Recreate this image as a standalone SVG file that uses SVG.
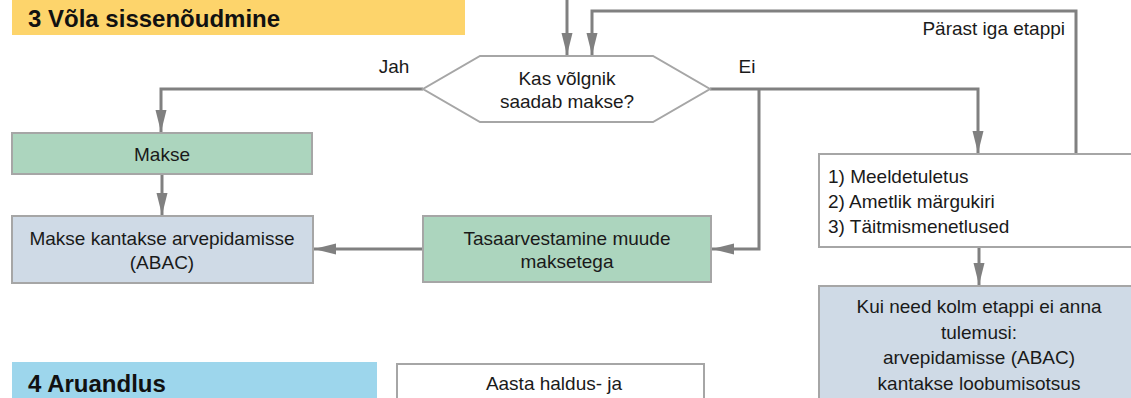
<svg xmlns="http://www.w3.org/2000/svg" width="1131" height="398" viewBox="0 0 1131 398">
<defs>
<style>
.t{font-family:"Liberation Sans",Arial,sans-serif;font-size:19px;fill:#1a1a1a}
.c{text-anchor:middle}
.h{font-family:"Liberation Sans",Arial,sans-serif;font-size:24px;font-weight:bold;fill:#111}
.box{stroke:#a6a6a6;stroke-width:2}
.green{fill:#acd5be}
.blue{fill:#cfdae6}
.white{fill:#ffffff}
.ln{fill:none;stroke:#808080;stroke-width:3}
</style>
<marker id="ah" markerUnits="userSpaceOnUse" markerWidth="22" markerHeight="12" refX="22" refY="6" orient="auto">
<path d="M0,0.5 L22,6 L0,11.5 Z" fill="#808080"/>
</marker>
</defs>
<rect width="1131" height="398" fill="#ffffff"/>

<g id="header3">
<rect x="12" y="0" width="453" height="35" fill="#fdd46b"/>
<text class="h" x="28" y="27">3 Võla sissenõudmine</text>
</g>

<g id="header4">
<rect x="12" y="362" width="365" height="40" fill="#9dd6ec"/>
<text class="h" x="28" y="392">4 Aruandlus</text>
</g>

<g id="connectors">
<path class="ln" d="M567,0 L567,55" marker-end="url(#ah)"/>
<path class="ln" d="M1076,154 L1076,11 L592,11 L592,55" marker-end="url(#ah)"/>
<path class="ln" d="M423,89 L161,89 L161,132" marker-end="url(#ah)"/>
<path class="ln" d="M710,89 L978,89 L978,153" marker-end="url(#ah)"/>
<path class="ln" d="M759,89 L759,249 L712,249" marker-end="url(#ah)"/>
<path class="ln" d="M162,174 L162,215" marker-end="url(#ah)"/>
<path class="ln" d="M423,249 L314,249" marker-end="url(#ah)"/>
<path class="ln" d="M979,247 L979,285" marker-end="url(#ah)"/>
<text class="t" x="394" y="73" text-anchor="middle">Jah</text>
<text class="t" x="747" y="73" text-anchor="middle">Ei</text>
<text class="t" x="1065" y="35" text-anchor="end">Pärast iga etappi</text>
</g>

<g id="decision">
<polygon class="box white" points="480,56 653,56 710,89 653,122 480,122 423,89"/>
<text class="t c" x="567" y="85">Kas võlgnik</text>
<text class="t c" x="567" y="108">saadab makse?</text>
</g>

<g id="makse">
<rect class="box green" x="12" y="133" width="300" height="41"/>
<text class="t c" x="162" y="161">Makse</text>
</g>

<g id="makse-kantakse">
<rect class="box blue" x="12" y="216" width="301" height="67"/>
<text class="t c" x="162" y="245">Makse kantakse arvepidamisse</text>
<text class="t c" x="162" y="269">(ABAC)</text>
</g>

<g id="tasaarvestamine">
<rect class="box green" x="423" y="216" width="288" height="66"/>
<text class="t c" x="567" y="245">Tasaarvestamine muude</text>
<text class="t c" x="567" y="268">maksetega</text>
</g>

<g id="etapid">
<rect class="box white" x="819" y="154" width="320" height="93"/>
<text class="t" x="828" y="183">1) Meeldetuletus</text>
<text class="t" x="828" y="208">2) Ametlik märgukiri</text>
<text class="t" x="828" y="233">3) Täitmismenetlused</text>
</g>

<g id="loobumine">
<rect class="box blue" x="819" y="286" width="320" height="120"/>
<text class="t c" x="979" y="313">Kui need kolm etappi ei anna</text>
<text class="t c" x="979" y="339">tulemusi:</text>
<text class="t c" x="979" y="364">arvepidamisse (ABAC)</text>
<text class="t c" x="979" y="390">kantakse loobumisotsus</text>
</g>

<g id="aastaaruanne">
<rect class="box white" x="397" y="364" width="307" height="44"/>
<text class="t c" x="554" y="390">Aasta haldus- ja</text>
</g>
</svg>
